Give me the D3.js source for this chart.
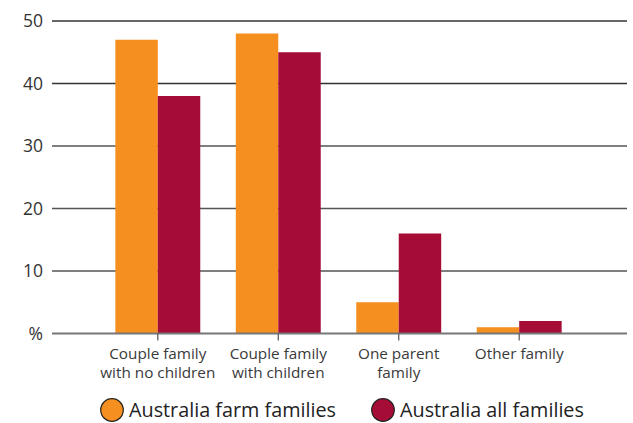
<!DOCTYPE html>
<html><head><meta charset="utf-8">
<script src="https://cdn.jsdelivr.net/npm/d3@7"></script>
<style>body{margin:0;background:#fff}svg{display:block;font-family:"Open Sans","Noto Sans",sans-serif}</style>
</head><body>
<script>
const categories = [["Couple family","with no children"],["Couple family","with children"],["One parent","family"],["Other family"]];
const seriesNames = ["Australia farm families","Australia all families"];
const farmValues = [47, 48, 5, 1];
const allValues = [38, 45, 16, 2];
const yTicks = [0,10,20,30,40,50];
const yTickLabels = ["%","10","20","30","40","50"];
const colors = ["#F58F1F","#A50D37"];

const W=633,H=423;
const svg=d3.select("body").append("svg").attr("width",W).attr("height",H);
const y=d3.scaleLinear().domain([0,50]).range([333.5,21]);
const x=d3.scaleBand().domain(d3.range(categories.length)).range([97.5,579.5]).paddingInner(0.295).paddingOuter(0.148);
const xs=d3.scaleBand().domain([0,1]).range([0,x.bandwidth()]);

svg.append("g").selectAll("line").data(yTicks.filter(d=>d>0)).join("line")
 .attr("x1",52).attr("x2",627).attr("y1",d=>y(d)).attr("y2",d=>y(d))
 .attr("stroke",d=>d>=40?"#333":"#555").attr("stroke-width",1.6);

svg.append("g").selectAll("text").data(yTicks).join("text")
 .attr("x",43).attr("y",d=>y(d)+6).attr("text-anchor","end")
 .attr("font-size",17.5).attr("fill","#333").text((d,i)=>yTickLabels[i]);

const series=[farmValues,allValues];
const g=svg.append("g");
series.forEach((vals,s)=>{
  g.selectAll(null).data(vals).join("rect")
   .attr("x",(d,i)=>x(i)+xs(s)).attr("width",xs.bandwidth())
   .attr("y",d=>y(d)).attr("height",d=>y(0)-y(d)).attr("fill",colors[s]);
});

svg.append("line").attr("x1",52).attr("x2",627).attr("y1",y(0)).attr("y2",y(0)).attr("stroke","#777").attr("stroke-width",2);
svg.append("g").selectAll("line").data(d3.range(categories.length)).join("line")
 .attr("x1",i=>x(i)+x.bandwidth()/2).attr("x2",i=>x(i)+x.bandwidth()/2)
 .attr("y1",y(0)).attr("y2",y(0)+7).attr("stroke","#555").attr("stroke-width",1.2);

const cl=svg.append("g").selectAll("text").data(categories).join("text")
 .attr("x",(d,i)=>x(i)+x.bandwidth()/2).attr("text-anchor","middle").attr("font-size",15.3).attr("fill","#3a3a3a");
cl.each(function(d){
  const t=d3.select(this);
  d.forEach((line,k)=>t.append("tspan").attr("x",t.attr("x")).attr("y",359+k*19).text(line));
});

const legX=[112,383];
seriesNames.forEach((n,i)=>{
  svg.append("circle").attr("cx",legX[i]).attr("cy",410).attr("r",11.3).attr("fill",colors[i]).attr("stroke","#222").attr("stroke-width",1.2);
  svg.append("text").attr("x",legX[i]+17).attr("y",417).attr("font-size",19.8).attr("fill","#222").text(n);
});
</script>
</body></html>
